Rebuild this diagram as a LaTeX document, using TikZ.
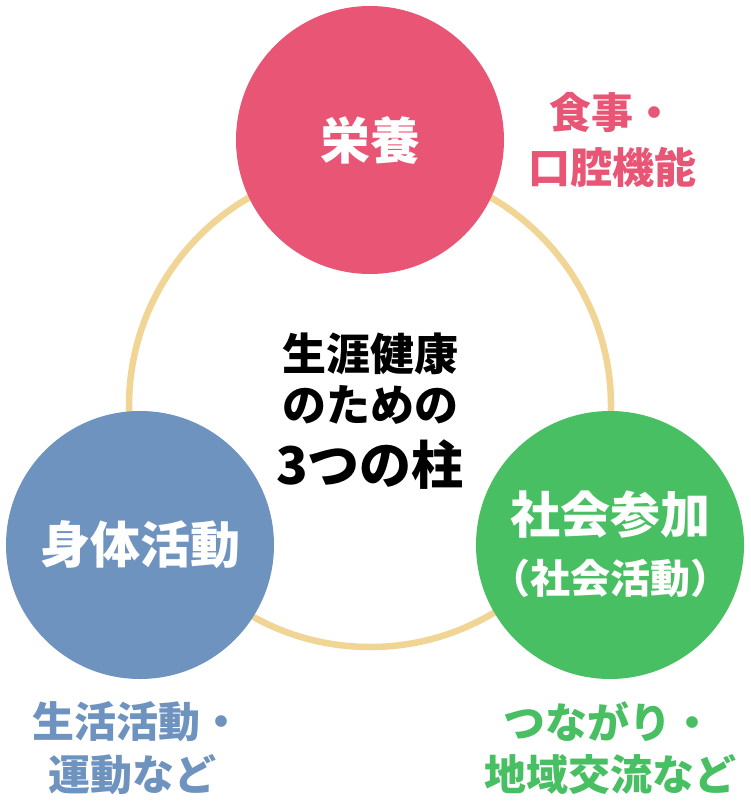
\documentclass[tikz,border=0pt]{standalone}
\usepackage{fontspec}
\setmainfont{Noto Sans CJK JP}
\definecolor{cpink}{HTML}{E95675}
\definecolor{cblue}{HTML}{6F93BF}
\definecolor{cgreen}{HTML}{48BF62}
\definecolor{cring}{HTML}{F0D595}
\begin{document}
\begin{tikzpicture}[x=1pt,y=-1pt,
  pillar/.style={circle,minimum size=268pt,inner sep=0pt},
  wt/.style={text=white,font=\bfseries\fontsize{50}{60}\selectfont},
  lbl/.style={font=\bfseries\fontsize{42}{50}\selectfont,inner sep=0pt}]
\useasboundingbox (0,0) rectangle (750,810);
\fill[white] (0,0) rectangle (750,810);
\draw[cring,line width=6.5pt] (370,406) circle (241);
\node[pillar,fill=cpink] (eiyo) at (370,140) {};
\node[pillar,fill=cblue] (shintai) at (140,545) {};
\node[pillar,fill=cgreen] (shakai) at (610,545) {};
\node[wt] (t1) at (eiyo) {栄養};
\node[wt] (t2) at (shintai) {身体活動};
\node[wt] (t3a) at (610,515) {社会参加};
\node[wt,font=\bfseries\fontsize{40}{48}\selectfont] (t3b) at (610,578) {（社会活動）};
\node[font=\bfseries\fontsize{44}{50}\selectfont] (c1) at (370,354) {生涯健康};
\node[font=\bfseries\fontsize{44}{50}\selectfont] (c2) at (370,405) {のための};
\node[font=\bfseries\fontsize{52}{60}\selectfont] (c3) at (370,465) {3つの柱};
\node[lbl,text=cpink] (l1a) at (612,113) {食事・};
\node[lbl,text=cpink] (l1b) at (612,167) {口腔機能};
\node[lbl,text=cblue] (l2a) at (137,722) {生活活動・};
\node[lbl,text=cblue] (l2b) at (132,775) {運動など};
\node[lbl,text=cgreen] (l3a) at (608,722) {つながり・};
\node[lbl,text=cgreen] (l3b) at (610,775) {地域交流など};
\end{tikzpicture}
\end{document}
